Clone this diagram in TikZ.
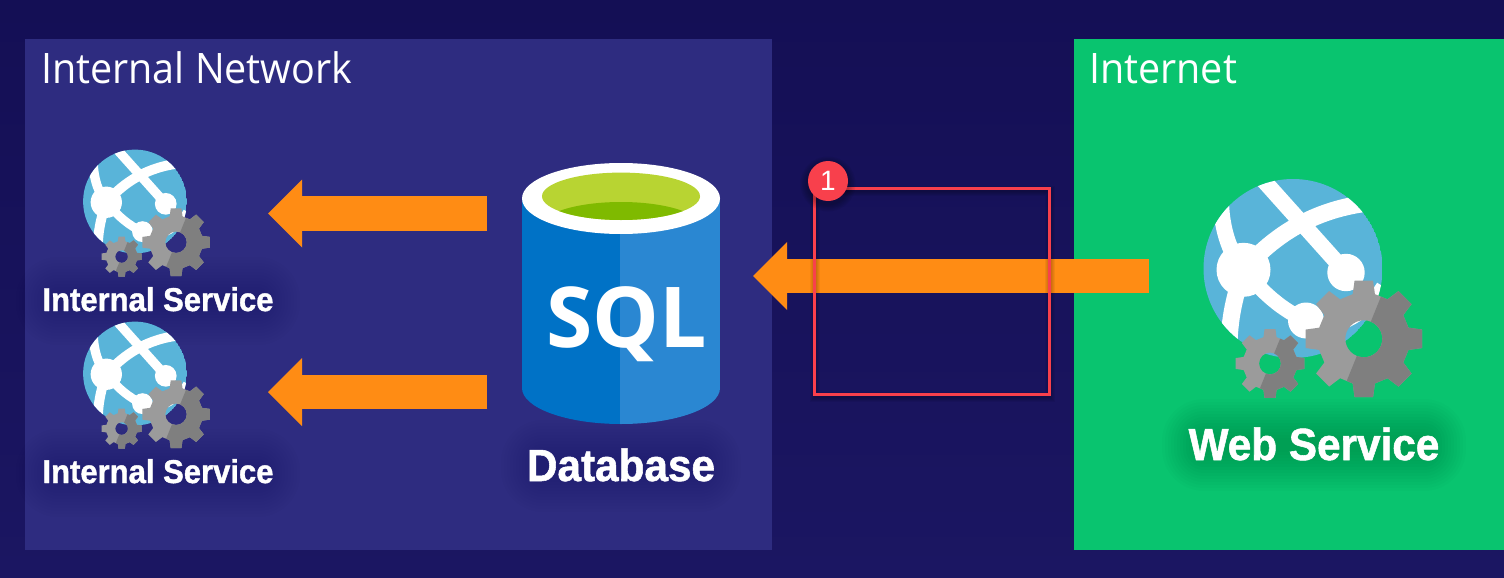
\documentclass[tikz,border=0pt]{standalone}
\usepackage{fontspec}
\setmainfont{Liberation Sans}
\newfontfamily\headfont[FakeStretch=0.94]{Open Sans}
\newfontfamily\labelfont[FakeStretch=0.94,FakeBold=1.2]{Liberation Sans Bold}
\newfontfamily\sqlfont{Open Sans}
\usetikzlibrary{arrows.meta,calc}
\definecolor{bgtop}{HTML}{140F55}
\definecolor{bgmid}{HTML}{1A1562}
\definecolor{bgbot}{HTML}{1B1662}
\definecolor{panelblue}{HTML}{2E2C80}
\definecolor{netgreen}{HTML}{09C46F}
\definecolor{flow}{HTML}{FF8C14}
\definecolor{alert}{HTML}{F8404C}
\definecolor{globeblue}{HTML}{59B4D9}
\definecolor{gearlight}{HTML}{9B9B9B}
\definecolor{geardark}{HTML}{7F7F7F}
\definecolor{dbdark}{HTML}{0072C6}
\definecolor{dblight}{HTML}{2A87D2}
\definecolor{dblime}{HTML}{B8D432}
\definecolor{dbgreen}{HTML}{7FBA00}
\tikzset{
  x=1pt,y=-1pt,
  panel/.style={minimum width=#1,inner sep=0pt,outer sep=0pt,anchor=north west,minimum height=511pt},
  headtext/.style={text=white,font=\headfont\fontsize{42}{42}\selectfont,anchor=base west,inner sep=0pt},
  boldtext/.style={text=white,font=\labelfont\fontsize{#1}{#1}\selectfont,inner sep=0pt,anchor=base},
  flowarrow/.style={draw=flow,line width=34.5pt,-{Triangle[length=34pt,width=68pt,fill=flow,line width=0pt]}},
  iconbox/.style={inner sep=0pt,outer sep=0pt,minimum width=#1,minimum height=#1},
  redframe/.style={draw=alert,line width=3pt,inner sep=0pt,outer sep=0pt,minimum width=235pt,minimum height=206pt},
  badge/.style={circle,fill=alert,text=white,minimum size=40pt,inner sep=0pt,font=\fontsize{28}{28}\selectfont},
  band/.style={draw=white,line cap=butt},
}
\newcommand{\gearoutline}{%
  (76:46) \foreach \a in {90,135,...,405}{ -- (\a-14:46) -- (\a-9:59) -- (\a+9:59) -- (\a+14:46)} -- cycle (0,0) circle (18.5)}
\newcommand{\onegear}[3]{%
  \begin{scope}[shift={(#1,#2)},scale=#3]
    \fill[gearlight,even odd rule] \gearoutline;
    \begin{scope}
      \clip (26,-64) -- (-26,64) -- (90,64) -- (90,-64) -- cycle;
      \fill[geardark,even odd rule] \gearoutline;
    \end{scope}
  \end{scope}}
\newcommand{\appicon}[3]{%
  \begin{scope}[shift={(#1,#2)},scale=#3]
    \begin{scope}
      \clip (0,0) circle (89.5);
      \fill[globeblue] (0,0) circle (89.5);
      \draw[band,line width=#3*16pt] (-33,-92) -- (53,4);
      \draw[band,line width=#3*17pt] (-49,1) .. controls (-20,-32) and (20,-60) .. (80,-66);
      \draw[band,line width=#3*16pt] (-72,-70) .. controls (-72,-35) and (-60,-10) .. (-49,1);
      \draw[band,line width=#3*17pt] (-49,1) .. controls (-58,25) and (-64,50) .. (-64,80);
      \draw[band,line width=#3*15pt] (-49,1) .. controls (-30,25) and (-10,42) .. (13,52);
      \draw[band,line width=#3*14pt] (13,52) .. controls (40,65) and (70,50) .. (90,18);
      \fill[white] (-49.5,1.3) circle (27) (53,4) circle (18.7) (13,52) circle (18);
    \end{scope}
    \onegear{-23}{95}{0.59}
    \onegear{70.8}{70.3}{1}
  \end{scope}}
\newcommand{\softglow}[4]{%
  \foreach \g in {1,...,14}{
    \fill[black,opacity=#4,rounded corners=\g*3pt]
      ($(#1)+(-#2-\g*3,-#3-\g*3)$) rectangle ($(#1)+(#2+\g*3,#3+\g*3)$);}}
\begin{document}
\begin{tikzpicture}
\useasboundingbox (0,0) rectangle (1504,578);
\shade[top color=bgtop,middle color=bgmid,bottom color=bgbot] (0,0) rectangle (1504,578);
% panels
\node[panel=747pt,fill=panelblue] (internal) at (25,39) {};
\node[panel=430pt,fill=netgreen] (internet) at (1074,39) {};
\node[headtext] (internalhead) at (41,83) {Internal Network};
\node[headtext] (internethead) at (1089,83) {Internet};
% text glows
\softglow{158,301}{100}{2}{0.008}
\softglow{158,473}{100}{2}{0.008}
\softglow{621,466}{78}{4}{0.008}
\softglow{1314,445}{110}{4}{0.010}
% icons
\node[iconbox=120pt] (svcicona) at (147,213) {};
\node[iconbox=120pt] (svciconb) at (147,385) {};
\appicon{135}{201.5}{0.58}
\appicon{135}{373.5}{0.58}
\node[iconbox=220pt] (webicon) at (1310,288) {};
\appicon{1293}{268.5}{1}
% database
\begin{scope}
  \clip (522,150) rectangle (620,440);
  \fill[dbdark] (522,198.5) rectangle (720,388);
  \fill[dbdark] (621,388) ellipse [x radius=99,y radius=36];
\end{scope}
\begin{scope}
  \clip (620,150) rectangle (722,440);
  \fill[dblight] (522,198.5) rectangle (720,388);
  \fill[dblight] (621,388) ellipse [x radius=99,y radius=36];
\end{scope}
\fill[white] (621,198.5) ellipse [x radius=99,y radius=35.5];
\fill[dblime] (621,196.3) ellipse [x radius=79,y radius=23.7];
\begin{scope}
  \clip (621,196.3) ellipse [x radius=79,y radius=23.7];
  \fill[dbgreen] (621,226) ellipse [x radius=79,y radius=24];
\end{scope}
\node[text=white,font=\sqlfont\bfseries\fontsize{84}{84}\selectfont,inner sep=0pt,anchor=base] (sql) at (626.5,347) {SQL};
\node[inner sep=0pt,minimum width=198pt,minimum height=261pt] (db) at (621,293.5) {};
% labels
\node[boldtext=33] (svclabela) at (158,311) {Internal Service};
\node[boldtext=33] (svclabelb) at (158,483) {Internal Service};
\node[boldtext=45] (dblabel) at (621,481) {Database};
\node[boldtext=45] (weblabel) at (1314,460) {Web Service};
% connectors
\coordinate (aonestart) at (487,213.5);
\coordinate (aoneend) at (268,213.5);
\coordinate (atwostart) at (487,392);
\coordinate (atwoend) at (268,392);
\coordinate (athreestart) at (1149,276);
\coordinate (athreeend) at (753,276);
\draw[flowarrow] (aonestart) -- (aoneend);
\draw[flowarrow] (atwostart) -- (atwoend);
\draw[flowarrow] (athreestart) -- (athreeend);
% frame
\foreach \g in {1,...,5}{
  \draw[black,opacity=0.05,line width=\g*2pt] (814.5,190.5) rectangle (1049.5,397);}
\node[redframe] (frame) at (932,291.5) {};
\foreach \g in {1,...,5}{
  \fill[black,opacity=0.06] (828,184) circle (20+\g*1.5);}
\node[badge] (badgeone) at (828,181) {1};
\end{tikzpicture}
\end{document}
